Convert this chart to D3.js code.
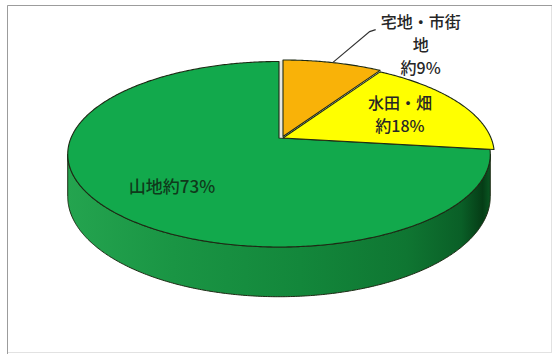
<!DOCTYPE html>
<html>
<head>
<meta charset="utf-8">
<script src="https://cdn.jsdelivr.net/npm/d3@7"></script>
<style>
  html, body { margin: 0; padding: 0; background: #ffffff; }
  svg { display: block; }
  text { font-family: "Noto Sans CJK JP", "Noto Sans", sans-serif; font-weight: 500; }
</style>
</head>
<body>
<svg id="chart" width="552" height="354"></svg>
<script>
// Land use shares (percent)
const categories = ["宅地・市街地", "水田・畑", "山地"];
const shares = [9, 18, 73];
const labelLines = [["宅地・市街", "地", "約9%"], ["水田・畑", "約18%"], ["山地約73%"]];

// Styling
const topColors = ["#F9B208", "#FFFF00", "#12A94C"];
const labelColors = ["#262626", "#262626", "#0f3a1b"];
const outline = "#1d2a14";

// 3D view: perspective-projected disc
const view = { cx: 279, cy: 138, h: 208, g: 89.9, p: 0.1752, depth: 41 };
// Small horizontal separation of the two upper slices
const sliceShift = [[4, -1.5], [4, 0], [0, 0]];

const svg = d3.select("#chart");
const W = 552, H = 354;

const xScale = d3.scaleLinear().domain([-1, 1]).range([view.cx - view.h, view.cx + view.h]);
const yScale = d3.scaleLinear().domain([-1, 1]).range([view.cy - view.g, view.cy + view.g]);

// angle a: clockwise from 12 o'clock (d3.pie convention); r: radius fraction
function project(a, r, shift, bottom) {
  const x = r * Math.sin(a);
  const d = -r * Math.cos(a);
  const w = 1 - view.p * d;
  return [
    xScale(x / w) + shift[0],
    yScale(d / w) + shift[1] + (bottom ? view.depth / w : 0)
  ];
}

function arcSamples(a0, a1) {
  const n = Math.max(2, Math.ceil((a1 - a0) / 0.01));
  return d3.range(n + 1).map(i => a0 + (a1 - a0) * i / n);
}

const pie = d3.pie().sort(null).value(d => d);
const arcs = pie(shares);

const lineGen = d3.line();

// Frame
svg.append("rect")
  .attr("x", 7.5).attr("y", 5.5).attr("width", W - 8).attr("height", H - 7)
  .attr("fill", "#ffffff").attr("stroke", "#e2e2e2").attr("stroke-width", 1);
svg.append("path")
  .attr("d", lineGen([[7.5, H], [7.5, 5.5], [W, 5.5]]))
  .attr("fill", "none").attr("stroke", "#9c9c9c").attr("stroke-width", 1);

// Side wall gradient
const defs = svg.append("defs");
const grad = defs.append("linearGradient")
  .attr("id", "sideGrad").attr("gradientUnits", "userSpaceOnUse")
  .attr("x1", xScale(-1.02)).attr("x2", xScale(1.02)).attr("y1", 0).attr("y2", 0);
[[0, "#24a44f"], [0.25, "#1a9544"], [0.55, "#13873b"], [0.8, "#0f7632"], [0.93, "#0a5f27"], [0.98, "#053d16"], [1, "#0a5a24"]]
  .forEach(([o, c]) => grad.append("stop").attr("offset", o).attr("stop-color", c));

// Visible part of the outer wall (front-facing between silhouette angles)
const visA0 = Math.acos(-view.p), visA1 = 2 * Math.PI - Math.acos(-view.p);
const gWalls = svg.append("g");
arcs.forEach((s, i) => {
  const a0 = Math.max(s.startAngle, visA0);
  const a1 = Math.min(s.endAngle, visA1);
  if (a1 <= a0) return;
  const angles = arcSamples(a0, a1);
  const topEdge = angles.map(a => project(a, 1, sliceShift[i], false));
  const botEdge = angles.slice().reverse().map(a => project(a, 1, sliceShift[i], true));
  gWalls.append("path")
    .attr("d", lineGen(topEdge.concat(botEdge)) + "Z")
    .attr("fill", i === 2 ? "url(#sideGrad)" : d3.color(topColors[i]).darker(0.6))
    .attr("stroke", outline).attr("stroke-width", 1).attr("stroke-linejoin", "round");
});

// Pale cut face visible in the gap between the separated slices
const gapPts = [
  project(0, 0, sliceShift[2], false),
  project(0, 1, sliceShift[2], false),
  project(0, 1, sliceShift[0], false),
  project(0, 0, sliceShift[0], false)
];
svg.append("path").attr("d", lineGen(gapPts) + "Z")
  .attr("fill", "#e9e8df").attr("stroke", "none");

// Top faces
const drawOrder = [2, 1, 0];
const gTop = svg.append("g");
drawOrder.forEach(i => {
  const s = arcs[i];
  const pts = [project(0, 0, sliceShift[i], false)]
    .concat(arcSamples(s.startAngle, s.endAngle).map(a => project(a, 1, sliceShift[i], false)));
  gTop.append("path")
    .attr("d", lineGen(pts) + "Z")
    .attr("fill", topColors[i])
    .attr("stroke", outline).attr("stroke-width", 1.1).attr("stroke-linejoin", "round");
});

// Labels
const fs = 16, lh = 23;
function drawLabel(i, cx, baseline, size) {
  const t = svg.append("text")
    .attr("text-anchor", "middle")
    .attr("font-size", size || fs)
    .attr("fill", labelColors[i]);
  labelLines[i].forEach((ln, k) => {
    t.append("tspan").attr("x", cx).attr("y", baseline + k * lh).text(ln);
  });
}

// Orange slice: outside label with leader line from the rim midpoint
const mid0 = (arcs[0].startAngle + arcs[0].endAngle) / 2;
const rimPt = project(mid0, 1, sliceShift[0], false);
svg.append("path")
  .attr("d", lineGen([rimPt, [rimPt[0] + 37, rimPt[1] - 31], [rimPt[0] + 43, rimPt[1] - 33]]))
  .attr("fill", "none").attr("stroke", "#333333").attr("stroke-width", 1.2);
drawLabel(0, rimPt[0] + 88, rimPt[1] - 35);

// Yellow slice: label inside along its bisector
const mid1 = (arcs[1].startAngle + arcs[1].endAngle) / 2;
const p1 = project(mid1, 0.64, sliceShift[1], false);
drawLabel(1, p1[0] + 2, p1[1] - 6);

// Green slice: label inside
const mid2 = (arcs[2].startAngle + arcs[2].endAngle) / 2;
const p2 = project(mid2, 0.63, sliceShift[2], false);
drawLabel(2, p2[0] - 1, p2[1] + 15, 17);
</script>
</body>
</html>
